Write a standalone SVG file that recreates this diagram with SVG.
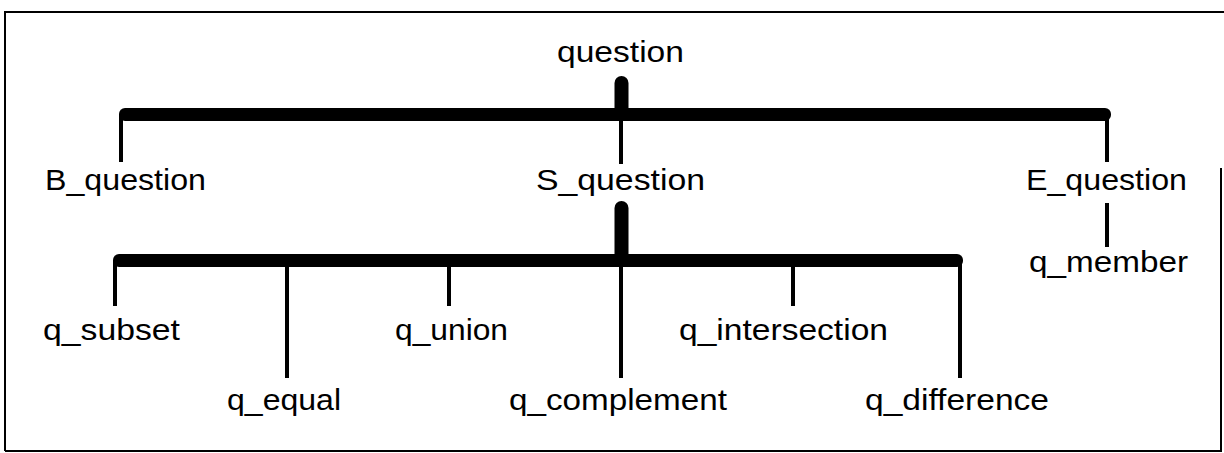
<svg xmlns="http://www.w3.org/2000/svg" width="1224" height="453" viewBox="0 0 1224 453">
  <style>
    .lbl { font-family: "Liberation Sans", Arial, sans-serif; font-size: 30px; fill: #000; }
    .thin { stroke: #000; stroke-width: 4; fill: none; }
    .thick { stroke: #000; stroke-width: 14; fill: none; stroke-linecap: round; }
    .bar { fill: #000; }
    .frame { stroke: #000; stroke-width: 2; fill: none; }
  </style>
  <rect width="1224" height="453" fill="#fff"/>
  <g id="frame">
    <path class="frame" d="M5,451 L5,12 L1224,12"/>
    <path class="frame" d="M5,451 L1221,451 L1221,168"/>
  </g>
  <g id="connectors">
    <line class="thick" x1="621.5" y1="83" x2="621.5" y2="112"/>
    <rect class="bar" x="119" y="108" width="992" height="13" rx="6"/>
    <line class="thin" x1="121" y1="114" x2="121" y2="162"/>
    <line class="thin" x1="621" y1="114" x2="621" y2="164"/>
    <line class="thin" x1="1107" y1="114" x2="1107" y2="162"/>
    <line class="thin" x1="1107" y1="203" x2="1107" y2="247"/>
    <line class="thick" x1="621.5" y1="208" x2="621.5" y2="258"/>
    <rect class="bar" x="113" y="254" width="850" height="13" rx="6"/>
    <line class="thin" x1="115" y1="260" x2="115" y2="306"/>
    <line class="thin" x1="287" y1="260" x2="287" y2="378"/>
    <line class="thin" x1="449" y1="260" x2="449" y2="306"/>
    <line class="thin" x1="621" y1="260" x2="621" y2="378"/>
    <line class="thin" x1="793" y1="260" x2="793" y2="306"/>
    <line class="thin" x1="960" y1="260" x2="960" y2="378"/>
  </g>
  <g id="question"><text class="lbl" x="557" y="62" textLength="127" lengthAdjust="spacingAndGlyphs">question</text></g>
  <g id="B_question"><text class="lbl" x="45" y="190" textLength="161" lengthAdjust="spacingAndGlyphs">B_question</text></g>
  <g id="S_question"><text class="lbl" x="536" y="190" textLength="169" lengthAdjust="spacingAndGlyphs">S_question</text></g>
  <g id="E_question"><text class="lbl" x="1026" y="190" textLength="161" lengthAdjust="spacingAndGlyphs">E_question</text></g>
  <g id="q_member"><text class="lbl" x="1029" y="272" textLength="159" lengthAdjust="spacingAndGlyphs">q_member</text></g>
  <g id="q_subset"><text class="lbl" x="43" y="340" textLength="137" lengthAdjust="spacingAndGlyphs">q_subset</text></g>
  <g id="q_union"><text class="lbl" x="395" y="340" textLength="113" lengthAdjust="spacingAndGlyphs">q_union</text></g>
  <g id="q_intersection"><text class="lbl" x="679" y="340" textLength="209" lengthAdjust="spacingAndGlyphs">q_intersection</text></g>
  <g id="q_equal"><text class="lbl" x="227" y="410" textLength="114" lengthAdjust="spacingAndGlyphs">q_equal</text></g>
  <g id="q_complement"><text class="lbl" x="509" y="410" textLength="218" lengthAdjust="spacingAndGlyphs">q_complement</text></g>
  <g id="q_difference"><text class="lbl" x="865" y="410" textLength="184" lengthAdjust="spacingAndGlyphs">q_difference</text></g>
</svg>
